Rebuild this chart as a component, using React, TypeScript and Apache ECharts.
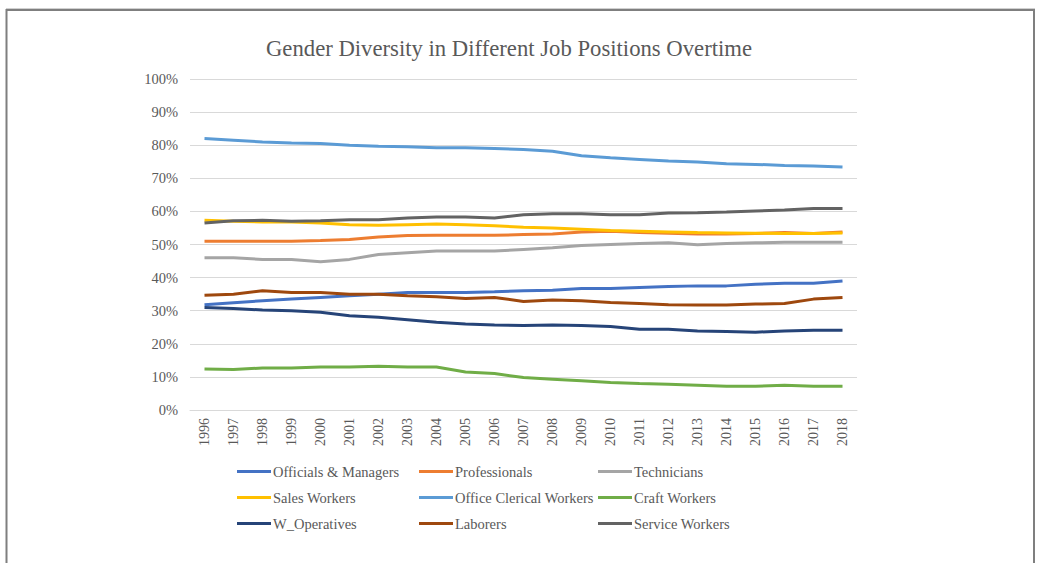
import React, { useEffect, useRef } from "react";
import * as echarts from "echarts";

const years = ["1996","1997","1998","1999","2000","2001","2002","2003","2004","2005","2006","2007","2008","2009","2010","2011","2012","2013","2014","2015","2016","2017","2018"];
const yTicks = [0, 10, 20, 30, 40, 50, 60, 70, 80, 90, 100];

const officials = [31.8,32.4,33,33.5,34,34.5,35,35.5,35.5,35.5,35.7,36,36.2,36.7,36.7,37,37.3,37.5,37.5,38,38.3,38.3,39];
const professionals = [51,51,51,51,51.2,51.5,52.3,52.7,52.8,52.8,52.8,53,53.2,53.8,54,53.6,53.4,53.2,53.2,53.3,53.6,53.3,53.8];
const technicians = [46,46,45.5,45.5,44.8,45.5,47,47.5,48,48,48,48.5,49,49.7,50,50.3,50.5,49.9,50.3,50.5,50.7,50.7,50.7];
const sales = [57.3,57,56.8,56.8,56.5,56,55.8,56,56.2,56,55.7,55.2,55,54.6,54.2,54,53.8,53.6,53.5,53.4,53.3,53.3,53.5];
const clerical = [82,81.5,81,80.7,80.5,80,79.7,79.5,79.2,79.2,79,78.7,78.2,76.8,76.2,75.7,75.2,74.9,74.4,74.2,73.9,73.7,73.4];
const craft = [12.4,12.2,12.7,12.7,13,13,13.2,13,13,11.5,11,9.8,9.3,8.8,8.3,8,7.8,7.5,7.2,7.2,7.5,7.2,7.2];
const operatives = [31,30.7,30.2,30,29.5,28.5,28,27.3,26.5,26,25.7,25.5,25.7,25.5,25.2,24.4,24.4,23.9,23.7,23.5,23.9,24.1,24.1];
const laborers = [34.7,35,36,35.5,35.5,35,35,34.5,34.2,33.7,34,32.8,33.2,33,32.5,32.2,31.8,31.7,31.7,32,32.2,33.5,34];
const service = [56.5,57.2,57.3,57,57.2,57.5,57.5,58,58.3,58.3,58,59,59.3,59.3,59,59,59.5,59.6,59.8,60.1,60.4,60.9,60.9];

const seriesNames = ["Officials & Managers","Professionals","Technicians","Sales Workers","Office Clerical Workers","Craft Workers","W_Operatives","Laborers","Service Workers"];
const seriesData = [officials, professionals, technicians, sales, clerical, craft, operatives, laborers, service];
const colors = ["#4472C4","#ED7D31","#A5A5A5","#FFC000","#5B9BD5","#70AD47","#264478","#9E480E","#636363"];

const FONT = "'Liberation Serif', 'Times New Roman', serif";

export default function App() {
  const ref = useRef<HTMLDivElement>(null);
  useEffect(() => {
    if (!ref.current) return;
    const chart = echarts.init(ref.current, null, { renderer: "svg" });
    const legendCols = [0, 1, 2].map((c) => [seriesNames[c], seriesNames[c + 3], seriesNames[c + 6]]);
    const legendLefts = [237, 419, 598];
    chart.setOption({
      animation: false,
      backgroundColor: "#ffffff",
      color: colors,
      title: {
        text: "Gender Diversity in Different Job Positions Overtime",
        left: 504,
        top: 32,
        textAlign: "center",
        textStyle: { fontFamily: FONT, fontSize: 22.7, fontWeight: "normal", color: "#595959" },
      },
      graphic: [
        {
          type: "line",
          shape: { x1: 6, y1: 8.5, x2: 1035, y2: 8.5 },
          style: { stroke: "#d0d0d0", lineWidth: 1 },
          silent: true,
        },
        {
          type: "rect",
          shape: { x: 6.5, y: 10, width: 1027.5, height: 600 },
          style: { fill: "none", stroke: "#7f7f7f", lineWidth: 2 },
          silent: true,
        },
      ],
      legend: legendCols.map((names, i) => ({
        data: names,
        orient: "vertical",
        left: legendLefts[i],
        top: 464,
        padding: 0,
        itemWidth: 34,
        itemHeight: 3,
        itemGap: 11,
        icon: "rect",
        textStyle: { fontFamily: FONT, fontSize: 14.5, color: "#595959", padding: [0, 0, 0, -3] },
      })),
      grid: { left: 190, right: 180, top: 79, height: 331, containLabel: false },
      xAxis: {
        type: "category",
        data: years,
        boundaryGap: true,
        axisLine: { lineStyle: { color: "#d9d9d9", width: 1 } },
        axisTick: { show: false },
        axisLabel: { rotate: 90, margin: 8, fontFamily: FONT, fontSize: 14, color: "#595959", interval: 0 },
      },
      yAxis: {
        type: "value",
        min: 0,
        max: 100,
        interval: 10,
        axisLine: { show: false },
        axisTick: { show: false },
        splitLine: { lineStyle: { color: "#d9d9d9", width: 1 } },
        axisLabel: { formatter: (v: number) => (yTicks.includes(v) ? v + "%" : ""), margin: 12, fontFamily: FONT, fontSize: 14.5, color: "#595959" },
      },
      series: seriesNames.map((name, i) => ({
        name,
        type: "line",
        data: seriesData[i],
        symbol: "none",
        lineStyle: { width: 3, color: colors[i] },
        itemStyle: { color: colors[i] },
      })),
    });
    return () => chart.dispose();
  }, []);
  return <div ref={ref} style={{ position: "fixed", left: 0, top: 0, width: 1037, height: 563 }} />;
}
